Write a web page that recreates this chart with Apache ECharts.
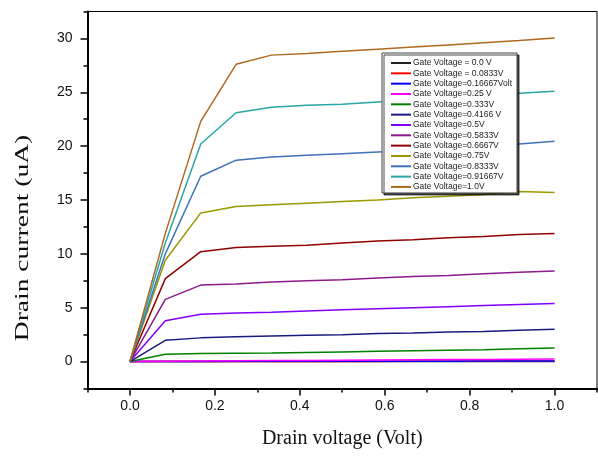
<!DOCTYPE html>
<html>
<head>
<meta charset="utf-8">
<script src="https://cdn.jsdelivr.net/npm/echarts@6/dist/echarts.min.js"></script>
<style>
html,body{margin:0;padding:0;background:#fff;}
#chart{width:598px;height:456px;}
</style>
</head>
<body>
<div id="chart"></div>
<script>
const drainV = [0, 0.0833, 0.1667, 0.25, 0.3333, 0.4167, 0.5, 0.5833, 0.6667, 0.75, 0.8333, 0.9167, 1.0];

const seriesNames = [
  "Gate Voltage = 0.0 V",
  "Gate Voltage = 0.0833V",
  "Gate Voltage=0.16667Volt",
  "Gate Voltage=0.25 V",
  "Gate Voltage=0.333V",
  "Gate Voltage=0.4166 V",
  "Gate Voltage=0.5V",
  "Gate Voltage=0.5833V",
  "Gate Voltage=0.6667V",
  "Gate Voltage=0.75V",
  "Gate Voltage=0.8333V",
  "Gate Voltage=0.91667V",
  "Gate Voltage=1.0V"
];

const g0000 = [0, 0, 0, 0, 0, 0, 0, 0, 0, 0, 0, 0, 0];
const g0833 = [0, 0, 0, 0.01, 0.01, 0.01, 0.01, 0.01, 0.02, 0.02, 0.02, 0.02, 0.02];
const g1667 = [0, 0.01, 0.01, 0.02, 0.02, 0.03, 0.03, 0.03, 0.04, 0.04, 0.05, 0.05, 0.05];
const g2500 = [0, 0.03, 0.05, 0.07, 0.09, 0.11, 0.13, 0.15, 0.17, 0.19, 0.2, 0.22, 0.23];
const g3330 = [0, 0.67, 0.76, 0.78, 0.8, 0.85, 0.9, 0.95, 1.0, 1.05, 1.1, 1.18, 1.25];
const g4166 = [0, 1.97, 2.2, 2.3, 2.37, 2.45, 2.5, 2.6, 2.65, 2.75, 2.8, 2.9, 3.0];
const g5000 = [0, 3.8, 4.4, 4.5, 4.57, 4.7, 4.8, 4.9, 5.0, 5.1, 5.2, 5.3, 5.4];
const g5833 = [0, 5.77, 7.1, 7.2, 7.38, 7.5, 7.6, 7.75, 7.9, 8.0, 8.15, 8.3, 8.4];
const g6667 = [0, 7.7, 10.2, 10.6, 10.7, 10.8, 11.0, 11.2, 11.3, 11.5, 11.6, 11.8, 11.9];
const g7500 = [0, 9.4, 13.8, 14.4, 14.55, 14.7, 14.85, 15.0, 15.2, 15.35, 15.5, 15.8, 15.7];
const g8333 = [0, 10.0, 17.2, 18.7, 19.0, 19.15, 19.3, 19.45, 19.6, 19.8, 20.0, 20.2, 20.45];
const g9167 = [0, 11.0, 20.2, 23.1, 23.6, 23.8, 23.9, 24.1, 24.3, 24.5, 24.7, 24.9, 25.1];
const g1000 = [0, 11.9, 22.3, 27.6, 28.45, 28.6, 28.8, 29.0, 29.2, 29.4, 29.6, 29.8, 30.05];

const allValues = [g0000, g0833, g1667, g2500, g3330, g4166, g5000, g5833, g6667, g7500, g8333, g9167, g1000];

const colors = ['#222222', '#ff0000', '#0000ff', '#ff00ff', '#008000', '#1a1a80', '#8000ff',
  '#8b1a8b', '#900000', '#999900', '#3f72b8', '#2aa6a6', '#b06a20'];

const xTickLabels = ['0.0', '0.2', '0.4', '0.6', '0.8', '1.0'];
const yTickLabels = ['0', '5', '10', '15', '20', '25', '30'];

const chart = echarts.init(document.getElementById('chart'), null, {renderer: 'canvas'});

const series = allValues.map((vals, i) => ({
  name: seriesNames[i],
  type: 'line',
  xAxisIndex: 0,
  yAxisIndex: 0,
  data: drainV.map((x, j) => [x, vals[j]]),
  symbol: 'none',
  lineStyle: {width: 1.5, color: colors[i]},
  itemStyle: {color: colors[i]},
  z: 3
}));

const labelFont = {fontFamily: '"Liberation Sans", Arial, sans-serif', fontSize: 14, color: '#111'};

chart.setOption({
  animation: false,
  backgroundColor: '#fff',
  grid: {left: 87.5, top: 11.5, width: 509.5, height: 377, show: true, borderColor: '#000', borderWidth: 1, containLabel: false},
  xAxis: [{
    type: 'value', min: -0.1, max: 1.1, splitNumber: 6,
    axisLine: {show: true, onZero: false, lineStyle: {color: '#000', width: 2}},
    axisTick: {show: true, inside: false, length: 7, lineStyle: {color: '#000', width: 1.5}},
    axisLabel: Object.assign({margin: 11, showMinLabel: false, showMaxLabel: false,
      formatter: v => { const k = Math.round(v / 0.2); return (Math.abs(v - k * 0.2) < 1e-6 && k >= 0 && k < xTickLabels.length) ? xTickLabels[k] : ''; }}, labelFont),
    splitLine: {show: false},
    name: 'Drain voltage (Volt)', nameLocation: 'middle', nameGap: 40,
    nameTextStyle: {fontFamily: '"Liberation Serif", "Times New Roman", serif', fontSize: 20, color: '#111'}
  }, {
    type: 'value', min: -0.1, max: 1.1, interval: 0.2, position: 'bottom',
    axisLine: {show: false, onZero: false},
    axisTick: {show: true, inside: false, length: 4, lineStyle: {color: '#000', width: 1.5}},
    axisLabel: {show: false}, splitLine: {show: false}
  }],
  yAxis: [{
    type: 'value', min: -2.5, max: 32.5, splitNumber: 7,
    axisLine: {show: true, onZero: false, lineStyle: {color: '#000', width: 2}},
    axisTick: {show: true, inside: false, length: 7, lineStyle: {color: '#000', width: 1.5}},
    axisLabel: Object.assign({margin: 15, showMinLabel: false, showMaxLabel: false,
      formatter: v => { const k = Math.round(v / 5); return (Math.abs(v - k * 5) < 1e-6 && k >= 0 && k < yTickLabels.length) ? yTickLabels[k] : ''; }}, labelFont),
    splitLine: {show: false}
  }, {
    type: 'value', min: -2.5, max: 32.5, interval: 5, position: 'left',
    axisLine: {show: false, onZero: false},
    axisTick: {show: true, inside: false, length: 4, lineStyle: {color: '#000', width: 1.5}},
    axisLabel: {show: false}, splitLine: {show: false}
  }],
  legend: {
    orient: 'vertical', left: 382, top: 53,
    data: seriesNames,
    icon: 'path://M0,0H20V2H0Z',
    itemWidth: 20, itemHeight: 2, itemGap: 0.33,
    padding: [5, 5, 1, 9],
    backgroundColor: '#fff',
    borderColor: '#444', borderWidth: 1,
    shadowColor: 'rgba(0,0,0,0.7)', shadowOffsetX: 2, shadowOffsetY: 2, shadowBlur: 0,
    textStyle: {fontFamily: '"Liberation Sans", Arial, sans-serif', fontSize: 8.5, color: '#222', lineHeight: 10, padding: [0, 0, 0, -3]},
    selectedMode: false
  },
  graphic: [{
    type: 'text',
    x: 23, y: 238,
    rotation: Math.PI / 2,
    scaleX: 1.45,
    style: {text: 'Drain current (uA)', font: '19px "Liberation Serif", "Times New Roman", serif', fill: '#111', textAlign: 'center', textVerticalAlign: 'middle'}
  }],
  series: series
});
</script>
</body>
</html>
